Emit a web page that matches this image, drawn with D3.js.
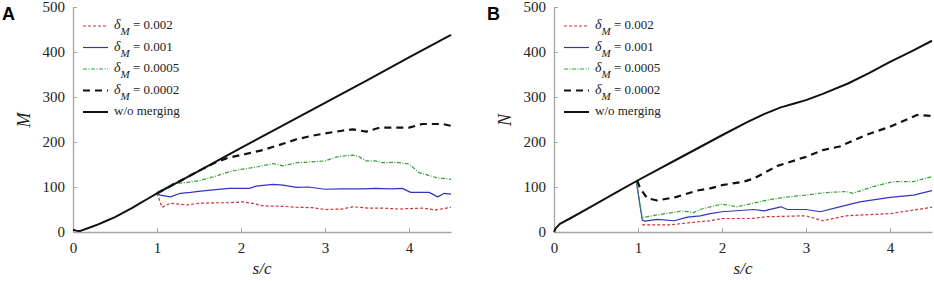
<!DOCTYPE html>
<html>
<head>
<meta charset="utf-8">
<script src="https://cdn.jsdelivr.net/npm/d3@7"></script>
<style>
  body { margin: 0; background: #fff; }
  svg { display: block; }
</style>
</head>
<body>
<div id="chart"></div>
<script>
// ---- data: [s/c, value] ----
let deltaLabels = ["0.002", "0.001", "0.0005", "0.0002"];
let xTicks = [0, 1, 2, 3, 4];
let yTicks = [0, 100, 200, 300, 400, 500];

// panel A (M)
let mNoMerge = [[0,5],[0.04,3],[0.08,2],[0.2,10],[0.3,17],[0.4,25],[0.5,33],[0.6,43],[0.7,53],[0.8,64],[0.9,75],[1,86],
  [1.5,136],[2,187],[2.5,237],[3,287],[3.5,337],[4,388],[4.5,438]];
let mD0002 = [[1,86],[1.5,136],[1.7,155],[1.85,165],[2.0,171],[2.26,182],[2.5,196],[2.66,206],[2.85,214],[3.0,219],
  [3.2,225],[3.33,228],[3.49,223],[3.65,232],[3.8,232],[4.0,232],[4.16,240],[4.4,240],[4.5,236]];
let mD0005 = [[1,86],[1.1,98],[1.2,108],[1.35,110],[1.5,114],[1.7,124],[1.86,134],[2.0,139],[2.2,145],[2.38,152],
  [2.5,147],[2.66,154],[2.85,156],[3.0,158],[3.14,167],[3.33,171],[3.4,168],[3.49,158],[3.6,158],[3.69,154],
  [3.85,155],[4.0,151],[4.12,132],[4.25,125],[4.32,121],[4.5,117]];
let mD001 = [[1,86],[1.04,82],[1.16,78],[1.28,86],[1.4,88],[1.52,91],[1.7,94],[1.86,97],[2.0,97],[2.1,97],[2.18,102],
  [2.38,106],[2.5,104],[2.66,99],[2.8,100],[3.0,95],[3.2,96],[3.45,96],[3.6,97],[3.8,96],[3.92,97],[4.02,88],
  [4.24,88],[4.34,78],[4.42,86],[4.5,84]];
let mD002 = [[1,86],[1.06,55],[1.16,64],[1.35,60],[1.52,64],[1.7,65],[1.86,65],[2.02,67],[2.15,63],[2.26,58],[2.5,57],
  [2.66,55],[2.85,54],[3.0,50],[3.2,51],[3.33,56],[3.53,53],[3.7,53],[3.88,51],[4.0,52],[4.16,53],[4.32,49],[4.5,55]];

// panel B (N)
let nNoMerge = [[0,0],[0.02,8],[0.07,18],[0.19,30],[0.4,52],[0.6,73],[0.8,94],[1.0,115],[1.5,165],[2.0,215],[2.3,244],
  [2.5,262],[2.7,277],[2.85,285],[3.0,293],[3.2,307],[3.5,330],[3.75,353],[4.0,378],[4.25,401],[4.5,425]];
let nD0002 = [[0.99,114],[1.02,100],[1.06,88],[1.11,75],[1.23,70],[1.46,78],[1.7,92],[1.86,97],[2.0,104],[2.26,112],
  [2.38,119],[2.66,147],[3.0,167],[3.2,182],[3.4,190],[3.72,216],[4.0,234],[4.32,260],[4.5,258]];
let nD0005 = [[0.98,113],[1.05,32],[1.23,38],[1.54,47],[1.66,43],[1.74,50],[1.86,56],[2.0,62],[2.18,56],[2.54,71],
  [2.74,77],[3.0,82],[3.2,87],[3.48,90],[3.56,86],[3.8,101],[4.04,112],[4.28,112],[4.5,123]];
let nD001 = [[0.98,113],[1.05,27],[1.08,24],[1.23,28],[1.43,25],[1.59,33],[1.74,36],[1.86,41],[2.0,45],[2.38,50],
  [2.5,47],[2.7,56],[2.78,50],[3.0,50],[3.17,45],[3.4,56],[3.64,67],[4.0,77],[4.28,82],[4.5,92]];
let nD002 = [[1.05,16],[1.38,16],[1.74,23],[1.86,25],[2.0,30],[2.34,30],[2.54,34],[3.0,36],[3.2,25],[3.48,36],
  [4.0,41],[4.5,55]];

// ---- drawing specs ----
let width = 934, height = 281;
let serif = "'Liberation Serif'";
let styles = [
  {color: "#cc3333", width: 1.2, dash: "3,2"},
  {color: "#3333bb", width: 1.2, dash: null},
  {color: "#33a033", width: 1.2, dash: "4,1.5,1,1.5"},
  {color: "#111", width: 2.2, dash: "7,5"},
  {color: "#111", width: 2, dash: null}
];

let svg = d3.select("#chart").append("svg")
  .attr("width", width).attr("height", height);

function panel(left, right, letter, letterX, yName, series) {
  let xScale = d3.scaleLinear().domain([0, 4.5]).range([left, right]);
  let yScale = d3.scaleLinear().domain([0, 500]).range([232, 7]);
  let g = svg.append("g");

  // axes
  let x_ax = g.append("g").attr("transform", "translate(0,232)")
    .call(d3.axisBottom(xScale).tickValues(xTicks).tickFormat(d3.format("d")).tickSizeInner(-4).tickSizeOuter(0).tickPadding(10));
  let y_ax = g.append("g").attr("transform", `translate(${left},0)`)
    .call(d3.axisLeft(yScale).tickValues(yTicks).tickSizeInner(-4).tickSizeOuter(0).tickPadding(8));
  [x_ax, y_ax].forEach(function(ax) {
    ax.select(".domain").attr("stroke", "#a6a6a6").attr("stroke-width", 1.3);
    ax.selectAll(".tick line").attr("stroke", "#a6a6a6");
    ax.selectAll(".tick text").attr("fill", "#222").style("font-family", serif).style("font-size", "15px");
  });

  // lines
  let line = d3.line().x(function(d) { return xScale(d[0]); }).y(function(d) { return yScale(d[1]); });
  series.forEach(function(s, i) {
    g.append("path").datum(s).attr("d", line)
      .attr("fill", "none")
      .attr("stroke", styles[i].color)
      .attr("stroke-width", styles[i].width)
      .attr("stroke-dasharray", styles[i].dash)
      .attr("stroke-linejoin", "round");
  });

  // legend
  let lx = left + 10;
  let labels = deltaLabels.concat(["w/o merging"]);
  labels.forEach(function(lab, i) {
    let ly = 26 + i * 21.5;
    g.append("line").attr("x1", lx).attr("x2", lx + 25).attr("y1", ly).attr("y2", ly)
      .attr("stroke", styles[i].color).attr("stroke-width", styles[i].width)
      .attr("stroke-dasharray", styles[i].dash);
    let t = g.append("text").attr("x", lx + 31).attr("y", ly + 3)
      .style("font-family", serif).style("font-size", "13px").attr("fill", "#222");
    if (i < 4) {
      t.append("tspan").style("font-style", "italic").style("font-size", "14px").text("δ");
      t.append("tspan").style("font-style", "italic").style("font-size", "11px").attr("dy", 6).text("M");
      t.append("tspan").attr("dy", -6).text(" = " + lab);
    } else {
      t.text(lab);
    }
  });

  // axis titles
  g.append("text").attr("x", (left + right) / 2).attr("y", 274).attr("text-anchor", "middle")
    .style("font-family", serif).style("font-size", "17px").style("font-style", "italic").attr("fill", "#222").text("s/c");
  g.append("text").attr("transform", `translate(${left - 43},120) rotate(-90)`).attr("text-anchor", "middle")
    .style("font-family", serif).style("font-size", "18px").style("font-style", "italic").attr("fill", "#222").text(yName);

  // panel letter
  g.append("text").attr("x", letterX).attr("y", 20)
    .style("font-family", "'Liberation Sans'").style("font-weight", "bold")
    .style("font-size", "18px").attr("fill", "#000").text(letter);
}

panel(73, 451, "A", 2, "M", [mD002, mD001, mD0005, mD0002, mNoMerge]);
panel(554, 932, "B", 487, "N", [nD002, nD001, nD0005, nD0002, nNoMerge]);
</script>
</body>
</html>
